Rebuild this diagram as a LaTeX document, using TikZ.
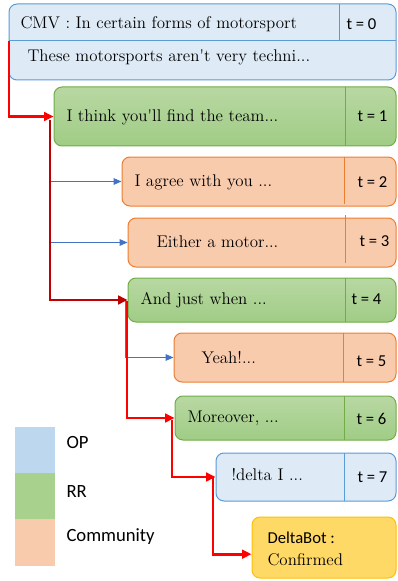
\documentclass[tikz,border=0pt]{standalone}
\usepackage{fontspec}
\setsansfont{Carlito}
\usetikzlibrary{arrows.meta,fit}

\definecolor{opfill}{RGB}{222,235,247}
\definecolor{opdraw}{RGB}{91,155,213}
\definecolor{rrtop}{RGB}{184,216,163}
\definecolor{rrbot}{RGB}{160,204,133}
\definecolor{rrdraw}{RGB}{112,173,71}
\definecolor{comfill}{RGB}{248,203,173}
\definecolor{comdraw}{RGB}{237,125,49}
\definecolor{botfill}{RGB}{255,217,102}
\definecolor{botdraw}{RGB}{255,192,0}
\definecolor{legop}{RGB}{189,215,238}
\definecolor{legrr}{RGB}{169,209,142}
\definecolor{legcom}{RGB}{248,203,173}
\definecolor{redc}{RGB}{255,0,0}
\definecolor{darkredc}{RGB}{192,0,0}
\definecolor{bluec}{RGB}{68,114,196}

\tikzset{every picture/.style={line width=0.75pt}}
\tikzset{
  box/.style={rounded corners=6pt, inner sep=0pt},
  opbox/.style={box, draw=opdraw, fill=opfill},
  rrbox/.style={box, draw=rrdraw, top color=rrtop, bottom color=rrbot},
  combox/.style={box, draw=comdraw, fill=comfill},
  botbox/.style={box, draw=botdraw, fill=botfill},
  legbox/.style={inner sep=0pt},
  txt/.style={anchor=west, inner sep=0.75pt, font=\fontsize{12.7}{15}\selectfont},
  tlabel/.style={anchor=west, inner sep=0.75pt, font=\sffamily\fontsize{12.5}{15}\selectfont},
  legtext/.style={anchor=west, inner sep=0.75pt, font=\sffamily\fontsize{14}{17}\selectfont},
  redline/.style={draw=redc, line width=2pt, -{Triangle[length=7pt,width=6.5pt]}},
  darkline/.style={draw=darkredc, line width=2pt, -{Triangle[length=7pt,width=6.5pt]}},
  blueline/.style={draw=bluec, line width=0.75pt, -{Triangle[length=6pt,width=5pt]}}
}

\begin{document}
\begin{tikzpicture}[x=0.75pt,y=0.75pt,yscale=-1,xscale=1]
\useasboundingbox (0,0) rectangle (397,581);

%Boxes
\node[opbox, fit={(9,4) (396,80)}] (c0) {};
\draw[opdraw] (9,41) -- (396,41) ;
\draw[opdraw] (339,4) -- (339,41) ;
\node[rrbox, fit={(54,87) (396,146)}] (c1) {};
\draw[rrdraw] (345,87) -- (345,146) ;
\node[combox, fit={(122,157) (396,206)}] (c2) {};
\draw[comdraw] (344,157) -- (344,204) ;
\node[combox, fit={(128,218) (396,267)}] (c3) {};
\draw[comdraw] (345,215) -- (345,263) ;
\node[rrbox, fit={(128,278) (396,322)}] (c4) {};
\draw[rrdraw] (345,278) -- (345,322) ;
\node[combox, fit={(174,333) (396,382)}] (c5) {};
\draw[comdraw] (343,333) -- (343,382) ;
\node[rrbox, fit={(175,396) (396,440)}] (c6) {};
\draw[rrdraw] (344,396) -- (344,440) ;
\node[opbox, fit={(216,453) (396,501)}] (c7) {};
\draw[opdraw] (344,453) -- (344,501) ;
\node[botbox, fit={(252,517) (396,578)}] (c8) {};

%Legend
\node[legbox, fill=legop, fit={(15,427) (55,473)}] (legop) {};
\node[legbox, fill=legrr, fit={(15,473) (55,519)}] (legrr) {};
\node[legbox, fill=legcom, fit={(15,519) (55,566)}] (legcom) {};

% Text Node
\node[txt] (m0a) at (19,24) {CMV : In certain forms of motorsport};
\node[tlabel] (t0) at (345,24) {t = 0};
\node[txt] (m0b) at (26,57) {These motorsports aren\textquotesingle t very techni...};
\node[txt] (m1) at (65,117) {I think you\textquotesingle ll find the team...};
\node[tlabel] (t1) at (356,116) {t = 1};
\node[txt] (m2) at (133,182) {I agree with you ...};
\node[tlabel] (t2) at (356,182) {t = 2};
\node[txt] (m3) at (155,242) {Either a motor...};
\node[tlabel] (t3) at (358,241) {t = 3};
\node[txt] (m4) at (139,300) {And just when ...};
\node[tlabel] (t4) at (350,299) {t = 4};
\node[txt] (m5) at (200,358) {Yeah!...};
\node[tlabel] (t5) at (355,361) {t = 5};
\node[txt] (m6) at (186,418) {Moreover, ...};
\node[tlabel] (t6) at (355,419) {t = 6};
\node[txt] (m7) at (230,475) {!delta I ...};
\node[tlabel] (t7) at (356,477) {t = 7};
\node[tlabel, font=\sffamily\fontsize{12.5}{15}\selectfont] (m8a) at (266,538) {DeltaBot :};
\node[txt] (m8b) at (266,560) {Confirmed};
\node[legtext] (lop) at (65,443) {OP};
\node[legtext] (lrr) at (65,492) {RR};
\node[legtext] (lcom) at (65,537) {Community};

%Connectors
\coordinate (s0) at (9,41);
\coordinate (s1) at (50,120);
\coordinate (s4) at (127,301);
\coordinate (b4) at (125,301);
\coordinate (s6) at (172,420);
\coordinate (s7) at (213,478);
\draw[redline] (s0) |- (c1.west) ;
\draw[blueline] (s1 |- c2.west) -- (c2.west) ;
\draw[blueline] (s1 |- c3.west) -- (c3.west) ;
\draw[darkline] (s1) |- (c4.west) ;
\draw[blueline] (b4) |- (c5.west) ;
\draw[redline] (s4) |- (c6.west) ;
\draw[redline] (s6) |- (c7.west) ;
\draw[redline] (s7) |- ([yshift=5pt]c8.west) ;

\end{tikzpicture}
\end{document}
